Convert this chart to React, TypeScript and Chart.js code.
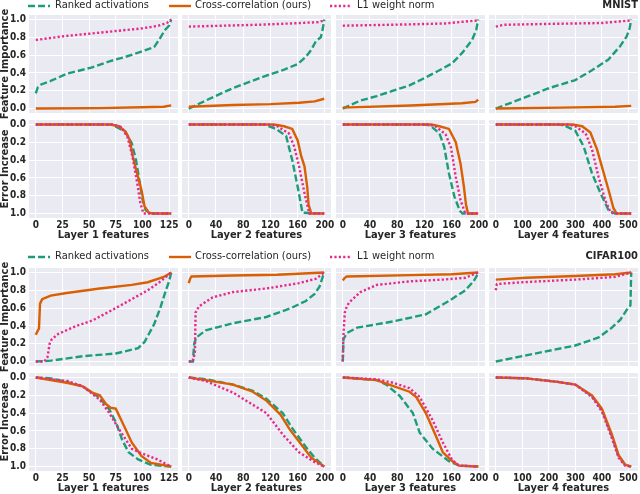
import React, { useEffect, useRef } from "react";
import { Chart, registerables } from "chart.js";

Chart.register(...registerables);

type Pt = [number, number];

// ---------- labels ----------
const SERIES_NAMES = ["Ranked activations", "Cross-correlation (ours)", "L1 weight norm"];
const LAYER_TITLES = ["Layer 1 features", "Layer 2 features", "Layer 3 features", "Layer 4 features"];
const DATASET_NAMES = ["MNIST", "CIFAR100"];
const ROW_TITLES = ["Feature Importance", "Error Increase"];

// ---------- axes ----------
const LAYER_LAST_INDEX = [127, 199, 199, 511];
const X_TICKS_L1 = [0, 25, 50, 75, 100, 125];
const X_TICKS_L2 = [0, 40, 80, 120, 160, 200];
const X_TICKS_L3 = [0, 40, 80, 120, 160, 200];
const X_TICKS_L4 = [0, 100, 200, 300, 400, 500];
const Y_TICKS = [0, 0.2, 0.4, 0.6, 0.8, 1.0];

// ---------- MNIST: feature importance ----------
const mnistImpL1Ranked: Pt[] = [[0, 0.17], [2, 0.24], [5, 0.27], [14, 0.31], [29, 0.39], [52, 0.46], [69, 0.53], [84, 0.58], [99, 0.64], [111, 0.69], [116, 0.78], [121, 0.88], [125, 0.93], [127, 1.0]];
const mnistImpL1Cross: Pt[] = [[0, 0.0], [60, 0.005], [100, 0.015], [120, 0.02], [127, 0.035]];
const mnistImpL1Norm: Pt[] = [[0, 0.77], [25, 0.81], [50, 0.84], [75, 0.87], [100, 0.9], [115, 0.93], [123, 0.96], [127, 1.0]];

const mnistImpL2Ranked: Pt[] = [[0, 0], [25, 0.09], [65, 0.23], [114, 0.37], [138, 0.43], [160, 0.5], [172, 0.58], [180, 0.66], [187, 0.76], [194, 0.8], [197, 0.9], [199, 1.0]];
const mnistImpL2Cross: Pt[] = [[0, 0.02], [65, 0.04], [120, 0.05], [162, 0.065], [185, 0.08], [199, 0.11]];
const mnistImpL2Norm: Pt[] = [[0, 0.92], [50, 0.93], [100, 0.94], [150, 0.955], [190, 0.97], [199, 0.99]];

const mnistImpL3Ranked: Pt[] = [[0, 0], [26, 0.09], [50, 0.14], [74, 0.2], [98, 0.26], [122, 0.35], [147, 0.45], [161, 0.51], [176, 0.63], [190, 0.77], [196, 0.88], [199, 1.0]];
const mnistImpL3Cross: Pt[] = [[0, 0.01], [100, 0.035], [175, 0.06], [195, 0.075], [199, 0.1]];
const mnistImpL3Norm: Pt[] = [[0, 0.93], [100, 0.945], [150, 0.955], [199, 0.99]];

const mnistImpL4Ranked: Pt[] = [[0, 0], [115, 0.13], [202, 0.23], [300, 0.32], [363, 0.43], [425, 0.55], [469, 0.7], [494, 0.81], [505, 0.9], [511, 1.0]];
const mnistImpL4Cross: Pt[] = [[0, 0.0], [250, 0.01], [450, 0.02], [511, 0.03]];
const mnistImpL4Norm: Pt[] = [[0, 0.92], [30, 0.94], [200, 0.95], [400, 0.96], [511, 0.99]];

// ---------- MNIST: error increase ----------
const mnistErrL1Ranked: Pt[] = [[0, 0], [60, 0], [72, 0.005], [84, 0.08], [90, 0.21], [94, 0.4], [97, 0.62], [100, 0.84], [103, 0.96], [107, 1.0], [127, 1.0]];
const mnistErrL1Cross: Pt[] = [[0, 0], [70, 0], [78, 0.02], [84, 0.08], [88, 0.17], [91, 0.36], [95, 0.55], [99, 0.73], [102, 0.92], [106, 0.99], [110, 1.0], [127, 1.0]];
const mnistErrL1Norm: Pt[] = [[0, 0], [72, 0], [80, 0.03], [86, 0.14], [91, 0.38], [95, 0.65], [98, 0.88], [101, 1.0], [127, 1.0]];

const mnistErrL2Ranked: Pt[] = [[0, 0], [110, 0], [128, 0.05], [143, 0.13], [152, 0.4], [160, 0.7], [167, 0.99], [199, 1.0]];
const mnistErrL2Cross: Pt[] = [[0, 0], [125, 0], [140, 0.02], [152, 0.05], [160, 0.18], [165, 0.35], [170, 0.47], [174, 0.7], [176, 0.9], [180, 1.0], [199, 1.0]];
const mnistErrL2Norm: Pt[] = [[0, 0], [115, 0], [130, 0.02], [147, 0.1], [155, 0.25], [162, 0.47], [170, 0.77], [177, 1.0], [199, 1.0]];

const mnistErrL3Ranked: Pt[] = [[0, 0], [120, 0], [128, 0.01], [142, 0.1], [149, 0.25], [156, 0.55], [164, 0.81], [172, 0.97], [176, 1.0], [199, 1.0]];
const mnistErrL3Cross: Pt[] = [[0, 0], [130, 0], [142, 0.02], [156, 0.05], [166, 0.2], [173, 0.44], [178, 0.7], [181, 0.9], [184, 1.0], [199, 1.0]];
const mnistErrL3Norm: Pt[] = [[0, 0], [125, 0], [136, 0.02], [151, 0.11], [159, 0.26], [166, 0.59], [173, 0.85], [180, 1.0], [199, 1.0]];

const mnistErrL4Ranked: Pt[] = [[0, 0], [240, 0], [264, 0.02], [300, 0.07], [332, 0.25], [363, 0.55], [395, 0.77], [425, 0.96], [450, 1.0], [511, 1.0]];
const mnistErrL4Cross: Pt[] = [[0, 0], [290, 0], [326, 0.02], [357, 0.09], [382, 0.28], [400, 0.47], [425, 0.73], [444, 0.94], [456, 1.0], [511, 1.0]];
const mnistErrL4Norm: Pt[] = [[0, 0], [270, 0], [300, 0.02], [339, 0.1], [363, 0.28], [388, 0.59], [413, 0.85], [432, 0.98], [445, 1.0], [511, 1.0]];

// ---------- CIFAR100: feature importance ----------
const cifarImpL1Ranked: Pt[] = [[0, 0], [14, 0.01], [44, 0.06], [75, 0.09], [96, 0.15], [102, 0.22], [111, 0.42], [117, 0.61], [122, 0.8], [125, 0.9], [127, 1.0]];
const cifarImpL1Cross: Pt[] = [[0, 0.3], [2, 0.35], [3, 0.37], [4, 0.65], [6, 0.7], [14, 0.74], [29, 0.77], [60, 0.82], [90, 0.86], [105, 0.89], [120, 0.95], [127, 1.0]];
const cifarImpL1Norm: Pt[] = [[0, 0], [8, 0], [11, 0.05], [13, 0.2], [15, 0.25], [21, 0.31], [38, 0.4], [53, 0.46], [75, 0.6], [90, 0.7], [105, 0.8], [117, 0.9], [127, 1.0]];

const cifarImpL2Ranked: Pt[] = [[0, 0], [6, 0], [8, 0.2], [11, 0.27], [25, 0.35], [65, 0.43], [114, 0.5], [150, 0.6], [172, 0.68], [185, 0.76], [192, 0.84], [199, 1.0]];
const cifarImpL2Cross: Pt[] = [[0, 0.88], [2, 0.93], [4, 0.955], [65, 0.965], [130, 0.975], [199, 1.0]];
const cifarImpL2Norm: Pt[] = [[0, 0], [6, 0], [9, 0.1], [10, 0.55], [15, 0.62], [35, 0.72], [65, 0.78], [114, 0.82], [162, 0.88], [187, 0.93], [199, 1.0]];

const cifarImpL3Ranked: Pt[] = [[0, 0], [1, 0.25], [6, 0.32], [21, 0.38], [74, 0.45], [122, 0.53], [156, 0.68], [180, 0.8], [192, 0.9], [196, 0.95], [199, 1.0]];
const cifarImpL3Cross: Pt[] = [[0, 0.91], [3, 0.94], [6, 0.955], [100, 0.97], [160, 0.98], [199, 1.0]];
const cifarImpL3Norm: Pt[] = [[0, 0], [1, 0.3], [3, 0.55], [5, 0.6], [9, 0.66], [26, 0.78], [50, 0.86], [98, 0.9], [147, 0.92], [180, 0.94], [199, 1.0]];

const cifarImpL4Ranked: Pt[] = [[0, 0], [115, 0.07], [300, 0.18], [388, 0.27], [438, 0.38], [470, 0.47], [494, 0.58], [508, 0.63], [510, 0.9], [511, 1.0]];
const cifarImpL4Cross: Pt[] = [[0, 0.92], [115, 0.94], [300, 0.96], [450, 0.98], [511, 1.0]];
const cifarImpL4Norm: Pt[] = [[0, 0.8], [4, 0.87], [100, 0.89], [300, 0.92], [450, 0.95], [511, 1.0]];

// ---------- CIFAR100: error increase ----------
const cifarErrL1Ranked: Pt[] = [[0, 0], [14, 0.01], [29, 0.05], [44, 0.1], [59, 0.22], [69, 0.36], [75, 0.5], [81, 0.7], [87, 0.84], [96, 0.92], [108, 0.98], [127, 1.0]];
const cifarErrL1Cross: Pt[] = [[0, 0], [29, 0.06], [44, 0.1], [53, 0.17], [60, 0.2], [66, 0.3], [70, 0.34], [75, 0.35], [81, 0.5], [90, 0.73], [99, 0.88], [108, 0.96], [127, 1.0]];
const cifarErrL1Norm: Pt[] = [[0, 0], [30, 0.04], [44, 0.1], [60, 0.25], [69, 0.4], [78, 0.58], [90, 0.8], [99, 0.85], [114, 0.92], [127, 1.0]];

const cifarErrL2Ranked: Pt[] = [[0, 0], [25, 0.02], [65, 0.08], [94, 0.15], [114, 0.24], [138, 0.4], [152, 0.57], [172, 0.78], [185, 0.9], [199, 1.0]];
const cifarErrL2Cross: Pt[] = [[0, 0], [25, 0.03], [65, 0.08], [94, 0.16], [114, 0.26], [135, 0.42], [148, 0.58], [165, 0.75], [180, 0.9], [199, 1.0]];
const cifarErrL2Norm: Pt[] = [[0, 0], [25, 0.04], [65, 0.17], [114, 0.4], [138, 0.64], [162, 0.84], [185, 0.95], [199, 1.0]];

const cifarErrL3Ranked: Pt[] = [[0, 0], [50, 0.03], [64, 0.08], [84, 0.21], [103, 0.4], [113, 0.62], [132, 0.8], [156, 0.94], [171, 0.99], [199, 1.0]];
const cifarErrL3Cross: Pt[] = [[0, 0], [50, 0.03], [64, 0.07], [98, 0.16], [108, 0.22], [122, 0.4], [137, 0.66], [147, 0.84], [161, 0.94], [171, 0.99], [199, 1.0]];
const cifarErrL3Norm: Pt[] = [[0, 0], [50, 0.02], [74, 0.06], [98, 0.12], [113, 0.22], [132, 0.48], [147, 0.73], [161, 0.93], [171, 0.99], [199, 1.0]];

const cifarErrL4Ranked: Pt[] = [[0, 0], [115, 0.01], [233, 0.05], [300, 0.08], [363, 0.21], [400, 0.36], [438, 0.66], [463, 0.88], [488, 0.98], [511, 1.0]];
const cifarErrL4Cross: Pt[] = [[0, 0], [115, 0.01], [233, 0.05], [300, 0.08], [363, 0.2], [400, 0.35], [438, 0.64], [463, 0.87], [488, 0.98], [511, 1.0]];
const cifarErrL4Norm: Pt[] = [[0, 0], [115, 0.01], [233, 0.05], [300, 0.08], [363, 0.22], [400, 0.38], [438, 0.68], [463, 0.9], [488, 0.99], [511, 1.0]];

// ---------- styling / layout ----------
const FONT = "'DejaVu Sans Condensed', 'DejaVu Sans', sans-serif";
const TEXT_COLOR = "#262626";
const COLORS = ["#1b9e77", "#d95f02", "#e7298a"];
const DASHES: number[][] = [[7, 3], [], [2.2, 2.2]];
const BG = "#eaeaf2";

const COL_LEFT = [29, 182, 336, 489];
const PLOT_W = 149;
const ROW_TOP = [15, 120, 268, 373];
const PLOT_H = 98;

const X_TICKS = [X_TICKS_L1, X_TICKS_L2, X_TICKS_L3, X_TICKS_L4];

const PANEL_SERIES: Pt[][][][] = [
  [
    [mnistImpL1Ranked, mnistImpL1Cross, mnistImpL1Norm],
    [mnistImpL2Ranked, mnistImpL2Cross, mnistImpL2Norm],
    [mnistImpL3Ranked, mnistImpL3Cross, mnistImpL3Norm],
    [mnistImpL4Ranked, mnistImpL4Cross, mnistImpL4Norm],
  ],
  [
    [mnistErrL1Ranked, mnistErrL1Cross, mnistErrL1Norm],
    [mnistErrL2Ranked, mnistErrL2Cross, mnistErrL2Norm],
    [mnistErrL3Ranked, mnistErrL3Cross, mnistErrL3Norm],
    [mnistErrL4Ranked, mnistErrL4Cross, mnistErrL4Norm],
  ],
  [
    [cifarImpL1Ranked, cifarImpL1Cross, cifarImpL1Norm],
    [cifarImpL2Ranked, cifarImpL2Cross, cifarImpL2Norm],
    [cifarImpL3Ranked, cifarImpL3Cross, cifarImpL3Norm],
    [cifarImpL4Ranked, cifarImpL4Cross, cifarImpL4Norm],
  ],
  [
    [cifarErrL1Ranked, cifarErrL1Cross, cifarErrL1Norm],
    [cifarErrL2Ranked, cifarErrL2Cross, cifarErrL2Norm],
    [cifarErrL3Ranked, cifarErrL3Cross, cifarErrL3Norm],
    [cifarErrL4Ranked, cifarErrL4Cross, cifarErrL4Norm],
  ],
];

const bgPlugin = {
  id: "panelBg",
  beforeDraw(chart: any) {
    const { ctx, chartArea: a } = chart;
    ctx.save();
    ctx.fillStyle = BG;
    ctx.fillRect(a.left, a.top, a.right - a.left, a.bottom - a.top);
    ctx.restore();
  },
};

function Panel({ row, col }: { row: number; col: number }) {
  const ref = useRef<HTMLCanvasElement>(null);
  const isBottom = row % 2 === 1;
  const isLeft = col === 0;
  const T = 12;
  const R = 16;
  const Ly = isLeft ? 29 : 0;
  const Bx = isBottom ? 24 : 0;
  const Bp = isBottom ? 0 : 12;
  const w = Ly + PLOT_W + R;
  const h = T + PLOT_H + Bx + Bp;

  useEffect(() => {
    const series = PANEL_SERIES[row][col];
    const N = LAYER_LAST_INDEX[col];
    const xTicks = X_TICKS[col];
    const tickFont = { family: FONT, size: 10, weight: "bold" as const };
    const titleFont = { family: FONT, size: 11, weight: "bold" as const, lineHeight: 1.2 };
    const datasets = series.map((pts, i) => ({
      label: SERIES_NAMES[i],
      data: pts.map(([x, y]) => ({ x, y })),
      borderColor: COLORS[i],
      backgroundColor: COLORS[i],
      borderWidth: 2.4,
      borderDash: DASHES[i],
      borderCapStyle: "butt" as const,
      pointRadius: 0,
      tension: 0,
      fill: false,
      order: 2 - i,
    }));
    const chart = new Chart(ref.current as HTMLCanvasElement, {
      type: "line",
      data: { datasets },
      plugins: [bgPlugin],
      options: {
        animation: false,
        responsive: false,
        maintainAspectRatio: false,
        events: [],
        layout: { padding: { left: 0, top: T, right: R, bottom: Bp } },
        plugins: { legend: { display: false }, tooltip: { enabled: false } },
        scales: {
          x: {
            type: "linear",
            min: -0.05 * N,
            max: 1.05 * N,
            afterBuildTicks: (s: any) => {
              s.ticks = xTicks.map((v) => ({ value: v }));
            },
            afterFit: (s: any) => {
              s.height = Bx;
            },
            border: { display: false },
            grid: { color: "#ffffff", lineWidth: 1, drawTicks: false },
            ticks: {
              display: isBottom,
              padding: 1,
              font: tickFont,
              color: TEXT_COLOR,
              maxRotation: 0,
              autoSkip: false,
              callback: (v: any) => String(v),
            },
            title: {
              display: isBottom,
              text: LAYER_TITLES[col],
              font: titleFont,
              color: TEXT_COLOR,
              padding: 0,
            },
          },
          y: {
            type: "linear",
            min: -0.05,
            max: 1.05,
            reverse: isBottom,
            afterBuildTicks: (s: any) => {
              s.ticks = Y_TICKS.map((v) => ({ value: v }));
            },
            afterFit: (s: any) => {
              s.width = Ly;
            },
            border: { display: false },
            grid: { color: "#ffffff", lineWidth: 1, drawTicks: false },
            ticks: {
              display: isLeft,
              padding: 3,
              font: tickFont,
              color: TEXT_COLOR,
              autoSkip: false,
              callback: (v: any) => Number(v).toFixed(1),
            },
            title: {
              display: isLeft,
              text: ROW_TITLES[row % 2],
              font: { ...titleFont, lineHeight: 1.0 },
              color: TEXT_COLOR,
              padding: 0,
            },
          },
        },
      } as any,
    });
    return () => chart.destroy();
  }, [row, col]);

  return (
    <canvas
      ref={ref}
      width={w}
      height={h}
      style={{
        position: "absolute",
        left: COL_LEFT[col] - Ly,
        top: ROW_TOP[row] - T,
        width: w,
        height: h,
      }}
    />
  );
}

function LegendSample({ i }: { i: number }) {
  return (
    <svg width={22} height={6} style={{ display: "block" }}>
      <line
        x1={0}
        y1={3}
        x2={22}
        y2={3}
        stroke={COLORS[i]}
        strokeWidth={2.4}
        strokeDasharray={DASHES[i].length ? DASHES[i].join(" ") : undefined}
      />
    </svg>
  );
}

const LEGEND_SAMPLE_X = [28, 169, 330];
const LEGEND_TEXT_X = [55, 195, 357];

function Legend({ top }: { top: number }) {
  return (
    <>
      {SERIES_NAMES.map((name, i) => (
        <React.Fragment key={name}>
          <div style={{ position: "absolute", left: LEGEND_SAMPLE_X[i], top: top + 3 }}>
            <LegendSample i={i} />
          </div>
          <div
            style={{
              position: "absolute",
              left: LEGEND_TEXT_X[i],
              top: top - 1,
              fontFamily: FONT,
              fontSize: 11,
              lineHeight: "12px",
              color: TEXT_COLOR,
              whiteSpace: "nowrap",
            }}
          >
            {name}
          </div>
        </React.Fragment>
      ))}
    </>
  );
}

function GroupTitle({ text, top }: { text: string; top: number }) {
  return (
    <div
      style={{
        position: "absolute",
        right: 2,
        top: top - 1,
        fontFamily: FONT,
        fontSize: 11,
        fontWeight: "bold",
        lineHeight: "12px",
        color: TEXT_COLOR,
        whiteSpace: "nowrap",
      }}
    >
      {text}
    </div>
  );
}

export default function App() {
  const panels: { row: number; col: number }[] = [];
  for (let r = 0; r < 4; r++) for (let c = 0; c < 4; c++) panels.push({ row: r, col: c });
  return (
    <div
      style={{
        position: "fixed",
        left: 0,
        top: 0,
        width: 640,
        height: 494,
        overflow: "hidden",
        background: "#ffffff",
      }}
    >
      {panels.map((p) => (
        <Panel key={`${p.row}-${p.col}`} row={p.row} col={p.col} />
      ))}
      <Legend top={0} />
      <GroupTitle text={DATASET_NAMES[0]} top={0} />
      <Legend top={251} />
      <GroupTitle text={DATASET_NAMES[1]} top={251} />
    </div>
  );
}
